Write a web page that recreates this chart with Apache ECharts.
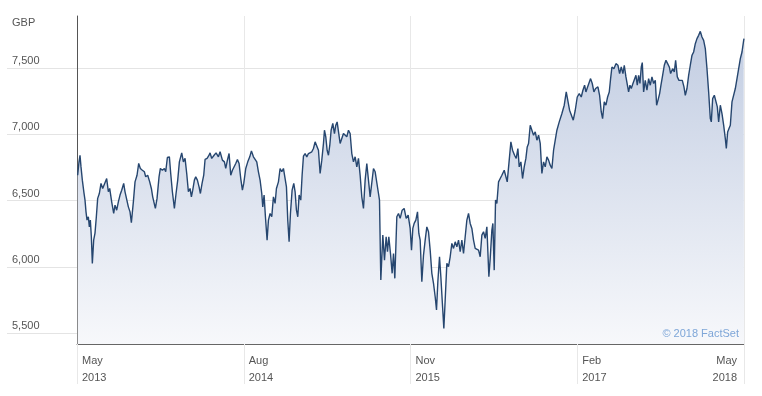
<!DOCTYPE html>
<html>
<head>
<meta charset="utf-8">
<script src="https://cdn.jsdelivr.net/npm/echarts@6/dist/echarts.min.js"></script>
<style>
html,body{margin:0;padding:0;background:#fff;}
#chart{width:762px;height:396px;}
</style>
</head>
<body>
<div id="chart"></div>
<script>
// Time position in months since May 2013
const months = [
0.06,0.18,0.27,0.36,0.48,0.63,0.72,0.81,0.90,1.02,1.11,1.20,1.29,1.38,1.50,1.62,1.74,1.86,2.01,2.16,
2.31,2.46,2.67,2.82,2.94,3.12,3.30,3.42,3.57,3.72,3.87,4.02,4.20,4.32,4.47,4.62,4.77,4.89,5.07,5.22,
5.40,5.55,5.70,5.88,6.06,6.18,6.36,6.54,6.69,6.81,6.96,7.05,7.20,7.38,7.50,7.68,7.86,7.98,8.13,8.31,
8.43,8.58,8.76,8.91,9.06,9.21,9.42,9.57,9.72,9.87,10.02,10.17,10.29,10.41,10.56,10.68,10.83,10.98,11.10,11.25,
11.40,11.52,11.70,11.88,11.97,12.12,12.33,12.51,12.72,12.87,13.08,13.26,13.38,13.53,13.68,13.83,13.98,14.13,14.28,14.43,
14.58,14.73,14.88,15.00,15.18,15.36,15.54,15.69,15.87,16.02,16.17,16.32,16.47,16.62,16.71,16.83,16.95,17.10,17.22,17.37,
17.52,17.67,17.82,17.94,18.12,18.27,18.42,18.57,18.72,18.84,18.96,19.08,19.20,19.35,19.50,19.62,19.74,19.86,19.98,20.13,
20.25,20.37,20.52,20.67,20.82,20.97,21.12,21.27,21.42,21.57,21.72,21.87,22.02,22.17,22.26,22.38,22.50,22.62,22.74,22.86,
23.01,23.16,23.28,23.40,23.67,23.97,24.27,24.42,24.57,24.72,24.87,25.02,25.17,25.32,25.47,25.62,25.77,25.92,26.07,26.22,
26.37,26.52,26.67,26.82,26.97,27.12,27.21,27.33,27.51,27.66,27.81,27.93,28.05,28.20,28.35,28.47,28.59,28.77,28.92,29.07,
29.25,29.43,29.61,29.79,29.97,30.09,30.21,30.33,30.48,30.63,30.75,30.87,31.02,31.17,31.32,31.47,31.62,31.77,31.92,32.07,
32.22,32.34,32.46,32.61,32.73,32.85,33.00,33.12,33.27,33.42,33.57,33.72,33.87,34.02,34.17,34.32,34.47,34.62,34.77,34.92,
35.07,35.22,35.37,35.52,35.67,35.82,35.97,36.12,36.27,36.42,36.57,36.72,36.87,37.05,37.17,37.32,37.41,37.53,37.65,37.77,
37.92,38.07,38.22,38.43,38.55,38.70,38.88,39.03,39.18,39.36,39.51,39.66,39.78,39.93,40.08,40.23,40.38,40.50,40.62,40.77,
40.92,41.07,41.22,41.37,41.52,41.67,41.82,41.97,42.12,42.27,42.42,42.57,42.72,42.87,43.02,43.17,43.38,43.62,43.83,44.01,
44.16,44.31,44.46,44.64,44.82,45.00,45.18,45.36,45.51,45.66,45.78,45.93,46.08,46.20,46.35,46.50,46.65,46.86,47.01,47.16,
47.28,47.43,47.58,47.73,47.88,48.00,48.12,48.30,48.48,48.66,48.81,48.96,49.11,49.23,49.38,49.53,49.62,49.74,49.86,50.01,
50.16,50.28,50.40,50.52,50.64,50.76,50.85,50.97,51.12,51.27,51.42,51.57,51.72,51.87,52.02,52.14,52.26,52.41,52.53,52.68,
52.83,52.98,53.13,53.28,53.40,53.58,53.73,53.85,54.00,54.15,54.30,54.45,54.60,54.72,54.87,55.02,55.17,55.32,55.47,55.62,
55.77,55.92,56.07,56.22,56.37,56.52,56.67,56.82,56.97,57.06,57.18,57.33,57.48,57.60,57.72,57.87,58.02,58.17,58.32,58.41,
58.53,58.65,58.77,58.92,59.07,59.22,59.37,59.52,59.67,59.82,59.97,60.00
];

// Index level in GBP
const gbp = [
6692,6793,6843,6755,6655,6557,6504,6415,6353,6378,6302,6353,6227,6026,6202,6255,6378,6517,6554,6630,
6592,6594,6667,6567,6592,6491,6403,6466,6428,6491,6542,6579,6630,6567,6554,6453,6415,6333,6491,6642,
6692,6781,6743,6730,6718,6680,6692,6642,6592,6529,6542,6441,6517,6680,6743,6730,6743,6718,6826,6831,
6705,6567,6441,6554,6655,6793,6861,6793,6819,6705,6567,6592,6529,6579,6655,6680,6655,6604,6554,6630,
6692,6811,6819,6843,6861,6819,6843,6861,6831,6869,6806,6793,6743,6806,6856,6692,6730,6718,6781,6811,
6781,6667,6579,6630,6743,6793,6831,6876,6831,6819,6793,6718,6655,6554,6453,6542,6378,6202,6353,6403,
6378,6529,6479,6592,6642,6743,6718,6743,6730,6604,6353,6189,6403,6579,6630,6567,6428,6378,6542,6504,
6692,6836,6856,6831,6856,6843,6869,6894,6944,6932,6881,6705,6806,6932,7032,6982,6881,6843,6919,7032,
7083,7007,7070,7095,6932,7007,6982,7032,7007,6856,6793,6831,6755,6819,6692,6529,6441,6655,6781,6768,
6529,6542,6743,6718,6705,6554,6504,5900,6240,6051,6227,6114,6227,6101,5951,6101,5913,6378,6403,6366,
6428,6441,6366,6391,6290,6126,6290,6328,6353,6416,6252,6202,5887,6089,6202,6302,6265,6126,5951,5875,
5774,5674,5887,6076,5925,5749,5535,5749,6026,6001,6076,6177,6139,6189,6151,6202,6114,6202,6101,6227,
6353,6403,6328,6290,6202,6139,6151,6126,6076,6240,6265,6215,6302,5925,6064,6277,6328,5975,6504,6479,
6642,6667,6692,6730,6718,6642,6806,6944,6881,6843,6819,6894,6755,6793,6667,6755,6819,6906,6932,7070,
7083,6994,7020,6957,6994,6932,6705,6793,6755,6831,6806,6768,6743,6881,6957,7032,7095,7158,7221,7321,
7309,7183,7170,7108,7183,7283,7309,7283,7334,7372,7321,7359,7359,7422,7385,7321,7347,7359,7296,7170,
7120,7246,7221,7283,7321,7422,7510,7497,7535,7523,7460,7510,7460,7523,7435,7422,7321,7372,7347,7385,
7397,7447,7372,7447,7385,7510,7543,7321,7409,7334,7422,7372,7435,7385,7409,7221,7258,7309,7372,7447,
7523,7560,7535,7510,7460,7497,7472,7560,7435,7409,7397,7409,7359,7296,7347,7447,7523,7598,7623,7686,
7724,7749,7779,7736,7711,7649,7497,7321,7120,7095,7271,7296,7283,7208,7095,7221,7158,7070,6969,6894,
7019,7045,7070,7246,7246,7347,7422,7497,7573,7623,7711,7724
];

const tickMonths = ['May', 'Aug', 'Nov', 'Feb', 'May'];
const tickYears = ['2013', '2014', '2015', '2017', '2018'];
const yTicks = [5500, 6000, 6500, 7000, 7500];

const FONT = "'Liberation Sans', Arial, Helvetica, sans-serif";
const chart = echarts.init(document.getElementById('chart'), null, {renderer: 'canvas'});

const seriesData = months.map((m, i) => [m, gbp[i]]);

chart.setOption({
  animation: false,
  backgroundColor: '#ffffff',
  textStyle: {fontFamily: FONT},
  title: [
    {text: 'GBP', left: 12, top: 17, padding: 0,
     textStyle: {fontSize: 11, fontWeight: 'normal', color: '#555', fontFamily: FONT}},
    {text: '\u00A9 2018 FactSet', right: 23, top: 328, padding: 0,
     textStyle: {fontSize: 11, fontWeight: 'normal', color: '#7ea6d8', fontFamily: FONT}}
  ],
  grid: {left: 77, right: 18, top: 16, bottom: 52, containLabel: false},
  xAxis: {
    type: 'value',
    min: 0, max: 60, interval: 15,
    axisLine: {show: true, onZero: false, lineStyle: {color: '#666', width: 1}},
    axisTick: {show: true, length: 40, inside: false, lineStyle: {color: '#e8e8e8'}},
    axisLabel: {
      show: true, margin: 8, align: 'left', alignMaxLabel: 'right',
      padding: [0, 7, 0, 5], lineHeight: 17,
      fontSize: 11, color: '#555', fontFamily: FONT,
      showMinLabel: true, showMaxLabel: true,
      formatter: function (v) {
        const i = Math.round(v / 15);
        return tickMonths[i] + '\n' + tickYears[i];
      }
    },
    splitLine: {show: true, lineStyle: {color: '#e8e8e8', width: 1}}
  },
  yAxis: {
    type: 'value',
    min: 5417, max: 7895,
    axisLine: {show: true, onZero: false, lineStyle: {color: '#555', width: 1}},
    axisTick: {show: true, length: 70, inside: false, customValues: yTicks, lineStyle: {color: '#e4e4e4', width: 1}},
    axisLabel: {
      show: true, customValues: yTicks, margin: 65, align: 'left', verticalAlign: 'bottom',
      lineHeight: 12, padding: [0, 0, 1, 0],
      fontSize: 11, color: '#555', fontFamily: FONT,
      formatter: function (v) { return v.toLocaleString('en-US'); }
    },
    splitLine: {show: true, lineStyle: {color: '#e4e4e4', width: 1}}
  },
  series: [{
    type: 'line',
    data: seriesData,
    symbol: 'none',
    smooth: false,
    lineStyle: {color: '#26466f', width: 1.4},
    areaStyle: {
      opacity: 1,
      color: new echarts.graphic.LinearGradient(0, 0, 0, 1, [
        {offset: 0, color: '#c2cde2'},
        {offset: 1, color: '#f7f8fb'}
      ])
    }
  }]
});
</script>
</body>
</html>
